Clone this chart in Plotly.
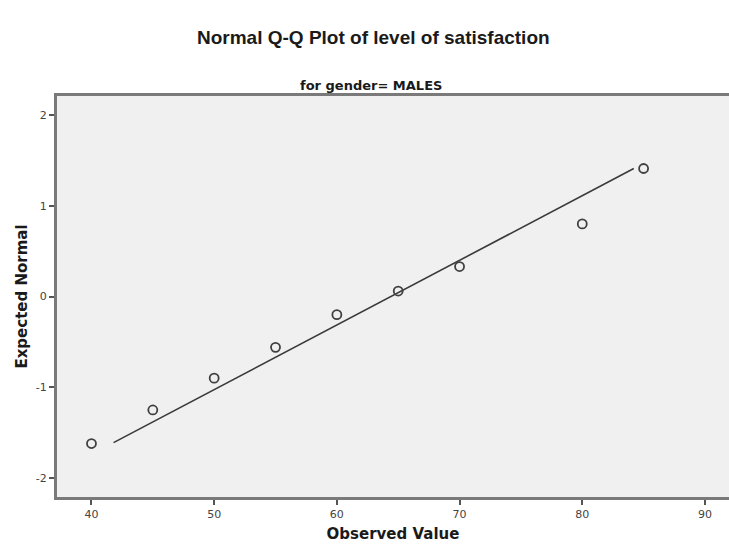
import plotly.graph_objects as go

# Data
observed = [40, 45, 50, 55, 60, 65, 70, 80, 85]
expected = [-1.62, -1.25, -0.90, -0.56, -0.20, 0.06, 0.33, 0.80, 1.41]
line_x = [41.8, 84.2]
line_y = [-1.61, 1.41]
x_ticks = [40, 50, 60, 70, 80, 90]
y_ticks = [-2, -1, 0, 1, 2]
y_tick_labels = ["-2", "-1", "0", "1", "2"]

title_text = "Normal Q-Q Plot of level of satisfaction"
subtitle_text = "for gender= MALES"

fig = go.Figure()
fig.add_trace(go.Scatter(
    x=line_x, y=line_y, mode="lines",
    line=dict(color="#3a3a3a", width=1.6), hoverinfo="skip", showlegend=False))
fig.add_trace(go.Scatter(
    x=observed, y=expected, mode="markers",
    marker=dict(symbol="circle-open", size=9, color="#404040", line=dict(width=1.8, color="#404040")),
    showlegend=False))

font_arial = "Liberation Sans, Arial, sans-serif"
font_wide = "DejaVu Sans, Verdana, sans-serif"

fig.update_layout(
    width=729, height=546,
    margin=dict(l=57, r=0, t=96, b=49),
    paper_bgcolor="white",
    plot_bgcolor="#f0f0f0",
    font=dict(family=font_wide, color="#333333"),
    annotations=[
        dict(text="<b>" + title_text + "</b>", x=0.5, y=1 + (96 - 38) / 401,
             xref="paper", yref="paper", yanchor="middle", xshift=-20,
             showarrow=False, font=dict(size=19, color="#1a1a1a", family=font_arial)),
        dict(text="<b>" + subtitle_text + "</b>", xref="paper", yref="paper", x=0.5, y=1.0,
             yanchor="bottom", yshift=1, xshift=-22, showarrow=False,
             font=dict(size=13, color="#1a1a1a", family=font_wide)),
    ],
    xaxis=dict(
        range=[37.19, 91.96], tickvals=x_ticks, ticks="outside", ticklen=5, tickwidth=2,
        tickcolor="#555555", showgrid=False, zeroline=False,
        showline=True, linecolor="#7a7a7a", linewidth=3, mirror=True,
        tickfont=dict(size=11, color="#444444"),
        title=dict(text="<b>Observed Value</b>", font=dict(size=15, color="#1a1a1a"), standoff=9),
    ),
    yaxis=dict(
        range=[-2.209, 2.209], tickvals=y_ticks, ticktext=y_tick_labels,
        ticks="outside", ticklen=5, tickwidth=2,
        tickcolor="#555555", showgrid=False, zeroline=False,
        showline=True, linecolor="#7a7a7a", linewidth=3, mirror=False,
        tickfont=dict(size=11, color="#444444"),
        title=dict(text="<b>Expected Normal</b>", font=dict(size=15, color="#1a1a1a"), standoff=5),
    ),
)

fig.write_html("out.html")
